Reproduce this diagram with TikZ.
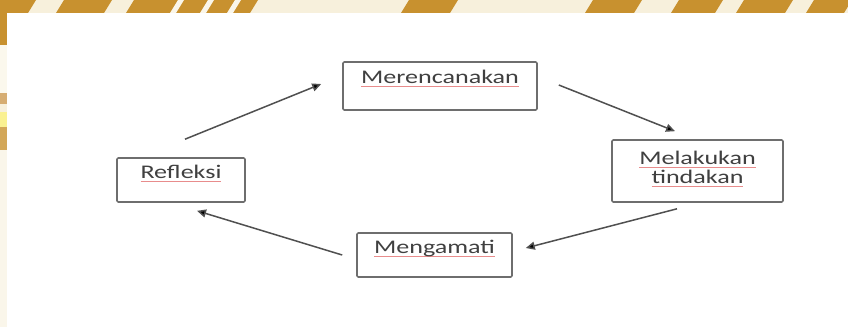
\documentclass[tikz,border=0pt]{standalone}
\usepackage{fontspec}
\newfontfamily\boxfont[FakeStretch=1.35]{Carlito}
\usetikzlibrary{arrows.meta}

\definecolor{batikgold}{HTML}{C8912F}
\definecolor{batikcream}{HTML}{F7F0DC}
\definecolor{boxgray}{HTML}{6E6E6E}
\definecolor{textgray}{HTML}{404040}
\definecolor{arrowgray}{HTML}{505050}
\definecolor{spellred}{HTML}{E88C8C}

% word with a spell-check style red underline
\newcommand\spellmark[1]{\setbox0=\hbox{#1}\rlap{\color{spellred}\rule[-3.6pt]{\wd0}{1.1pt}}\box0}

\tikzset{
  stepbox/.style={draw=boxgray, line width=1.6pt, rounded corners=1.2pt,
    inner sep=0pt, text=textgray, font=\boxfont\fontsize{19.3}{20}\selectfont},
  cyclearrow/.style={draw=arrowgray, line width=1.5pt,
    -{Triangle[length=9pt,width=8pt,fill=black]}},
}

\begin{document}
\begin{tikzpicture}[x=1pt,y=-1pt]
  \useasboundingbox (0,0) rectangle (848,327);

  % batik border along the top and left
  \fill[batikcream] (0,0) rectangle (848,327);
  \foreach \a/\b in {0/32, 60/108, 130/254, 405/454, 589/638, 675/719, 740/789, 810/848}
    \fill[batikgold] (\a-4,13) -- (\a+4,0) -- (\b+4,0) -- (\b-4,13) -- cycle;
  \foreach \a in {175, 205, 232}
    \fill[batikcream!60!white] (\a-5,13) -- (\a+3,0) -- (\a+9,0) -- (\a+1,13) -- cycle;
  \fill[batikgold] (0,0) rectangle (7,45);
  \fill[batikcream!50!white] (0,45) rectangle (7,93);
  \fill[batikgold!60!brown!70!white] (0,93) rectangle (7,104);
  \fill[yellow!35!batikcream] (0,112) rectangle (7,127);
  \fill[batikgold!80!white] (0,127) rectangle (7,150);
  \fill[batikcream!60!white] (0,150) rectangle (7,327);

  % white page
  \fill[white] (7,13) rectangle (848,327);

  % the four steps of the cycle
  \node[stepbox, minimum width=194pt, text height=21.5pt, text depth=26.5pt]
    (plan) at (440,86) {\spellmark{Merencanakan}};
  \node[stepbox, minimum width=171pt, text height=43pt, text depth=19pt]
    (act) at (697.5,171) {\vbox{\baselineskip=19pt\halign{\hfil#\hfil\cr
      \spellmark{Melakukan}\cr \spellmark{tindakan}\cr}}\hspace{4pt}};
  \node[stepbox, minimum width=155pt, text height=20pt, text depth=24pt]
    (observe) at (434.5,255) {\spellmark{Mengamati}};
  \node[stepbox, minimum width=128pt, text height=20pt, text depth=24pt]
    (reflect) at (181,180) {\spellmark{Refleksi}\hspace{10pt}};

  % connectors
  \draw[cyclearrow] ([shift={(4,-18)}]reflect.north) -- ([shift={(-21,-2)}]plan.west);
  \draw[cyclearrow] ([shift={(21,-1)}]plan.east) -- ([shift={(-22.5,-8)}]act.north);
  \draw[cyclearrow] ([shift={(-20.5,6)}]act.south) -- ([shift={(13,-7)}]observe.east);
  \draw[cyclearrow] ([shift={(-14,0)}]observe.west) -- ([shift={(16,8)}]reflect.south);
\end{tikzpicture}
\end{document}
